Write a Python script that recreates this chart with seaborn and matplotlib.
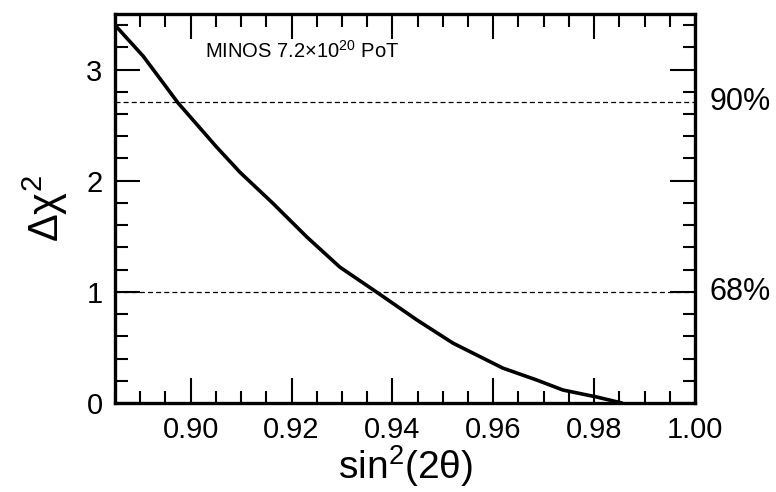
import numpy as np
import pandas as pd
import matplotlib
matplotlib.use('Agg')
import matplotlib.pyplot as plt
from matplotlib.ticker import MultipleLocator
import seaborn as sns

# values
sin2 = [0.885, 0.8906, 0.8975, 0.9052, 0.9098, 0.9163, 0.9231, 0.9296,
        0.9369, 0.9449, 0.9520, 0.9619, 0.9686, 0.9738, 0.9805, 0.9855]
dchi2 = [3.40, 3.12, 2.70, 2.30, 2.075, 1.797, 1.491, 1.222,
         0.997, 0.746, 0.539, 0.314, 0.207, 0.117, 0.054, 0.0]
cl_levels = [2.71, 1.00]
cl_labels = ['90%', '68%']

df = pd.DataFrame({'sin2': sin2, 'dchi2': dchi2})

sns.set_style('ticks')
plt.rcParams['font.family'] = ['Liberation Sans', 'DejaVu Sans']
plt.rcParams['mathtext.fontset'] = 'custom'
plt.rcParams['mathtext.rm'] = 'Liberation Sans'
plt.rcParams['mathtext.it'] = 'Liberation Sans'
plt.rcParams['text.color'] = 'black'
plt.rcParams['axes.labelcolor'] = 'black'
plt.rcParams['xtick.color'] = 'black'
plt.rcParams['ytick.color'] = 'black'
plt.rcParams['axes.edgecolor'] = 'black'

fig = plt.figure(figsize=(7.76, 4.92), dpi=100)
ax = fig.add_axes([115 / 776, 1 - 403 / 492, 580 / 776, 389 / 492])

sns.lineplot(data=df, x='sin2', y='dchi2', ax=ax, color='black', linewidth=2.6)
for lvl, lab in zip(cl_levels, cl_labels):
    ax.axhline(lvl, color='black', linewidth=0.9, linestyle=(0, (4, 2.5)))
    ax.text(1.025, lvl, lab, transform=ax.get_yaxis_transform(),
            va='center', ha='left', fontsize=22)

ax.set_xlim(0.885, 1.0)
ax.set_ylim(0, 3.5)
ax.xaxis.set_major_locator(MultipleLocator(0.02))
ax.xaxis.set_minor_locator(MultipleLocator(0.005))
ax.yaxis.set_major_locator(MultipleLocator(1))
ax.yaxis.set_minor_locator(MultipleLocator(0.2))
ax.xaxis.set_major_formatter(plt.FormatStrFormatter('%.2f'))
ax.tick_params(which='both', direction='in', top=True, right=True,
               width=1.5, labelsize=21)
ax.tick_params(which='major', length=18, pad=9)
ax.tick_params(which='minor', length=9)
for s in ax.spines.values():
    s.set_linewidth(2.4)
    s.set_visible(True)

ax.set_xlabel(r'sin$^2$(2θ)', fontsize=28, labelpad=0)
ax.set_ylabel(r'Δχ$^2$', fontsize=30, labelpad=12)
ax.text(0.155, 0.905, r'MINOS 7.2×10$^{20}$ PoT', transform=ax.transAxes,
        fontsize=14.5, ha='left', va='center')

fig.savefig('out.png', dpi=100)
